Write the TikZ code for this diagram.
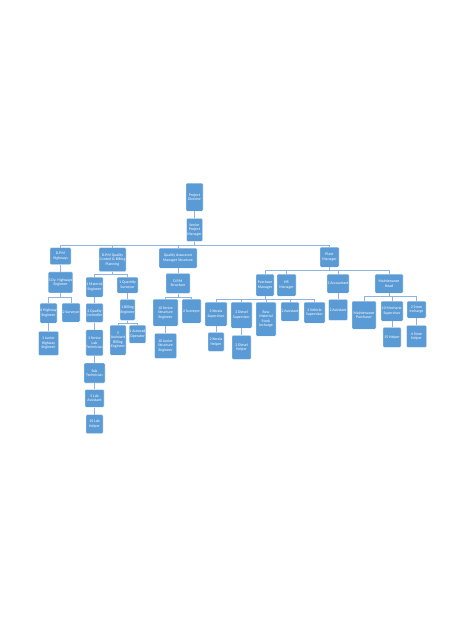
\documentclass[tikz,border=0pt]{standalone}
\usepackage{fontspec}
\setmainfont{Carlito}
\usetikzlibrary{positioning}
\definecolor{boxblue}{RGB}{91,155,213}
\definecolor{lineblue}{RGB}{143,180,226}
\tikzset{
    boks/.style={
           rectangle,
           rounded corners=1pt,
           fill=boxblue,
           draw=white, line width=0.3pt,
           text=white,
           font=\fontsize{3.9}{4.5}\selectfont,
           align=center,
           inner sep=0.3pt,
           anchor=north},
    wh/.style 2 args={
           minimum width=#1pt,
           minimum height=#2pt},
    linje/.style={
           draw=lineblue,
           line width=0.8pt}
}
\begin{document}
\begin{tikzpicture}[x=1pt, y=-1pt, node distance=6pt]
	\fill[white] (0,0) rectangle (474,632);
	\useasboundingbox (0,0) rectangle (474,632);
	% top
	\node[boks, wh={17}{28}] (ProjectDirector) at (194.5,183) {Project\\Director};
	\node[boks, wh={16}{23}, below = 7pt of ProjectDirector] (SeniorPM) {Senior\\Project\\Manager};
	\node[boks, wh={21}{17}] (DPMHighways) at (60.5,247.5) {D.P.M\\Highways};
	\node[boks, wh={27}{24}] (DPMQuality) at (112.5,247.5) {D.P.M Quality\\Control \& Billing\\Planning};
	\node[boks, wh={38}{20}] (QAManager) at (178,248) {Quality Assurance\\Manager Structure};
	\node[boks, wh={19}{20}] (PlantManager) at (329.5,247) {Plant\\Manager};
	% highways
	\node[boks, wh={23}{21}, below = 7pt of DPMHighways] (DyHighways) {3 Dy. Highways\\Engineer};
	\node[boks, wh={17}{20}] (HighwayEng) at (48.5,303) {6 Highway\\Engineer};
	\node[boks, wh={18}{19}] (SurveyorA) at (71,303) {2 Surveyor};
	\node[boks, wh={20}{24}, below = 8pt of HighwayEng] (JuniorHighway) {1 Junior\\Highway\\Engineer};
	% quality control and billing
	\node[boks, wh={17}{20}] (MaterialEng) at (94.5,277) {1 Material\\Engineer};
	\node[boks, wh={21}{16}] (QuantitySurv) at (127.5,277) {1 Quantity\\Surveyor};
	\node[boks, wh={17}{19}, below = 6pt of MaterialEng] (QualityCtrl) {2 Quality\\Controller};
	\node[boks, wh={17}{26}, below = 7pt of QualityCtrl] (LabTech) {1 Senior\\Lab\\Technician};
	\node[boks, wh={21}{20}, below = 7pt of LabTech] (SubTech) {Sub\\Technician};
	\node[boks, wh={19}{18}, below = 6pt of SubTech] (LabAssist) {5 Lab\\Assistant};
	\node[boks, wh={17}{19}, below = 7pt of LabAssist] (LabHelper) {10 Lab\\Helper};
	\node[boks, wh={15}{21}, below = 6pt of QuantitySurv] (BillingEng) {1 Billing\\Engineer};
	\node[boks, wh={16}{30}] (AsstBilling) at (118,325) {5\\Assistant\\Billing\\Engineer};
	\node[boks, wh={15}{18}] (AutocadOp) at (137.5,325) {1 Autocad\\Operator};
	% structure
	\node[boks, wh={24}{20}, below = 5pt of QAManager] (DPMStructure) {D.P.M\\Structure};
	\node[boks, wh={25}{27}] (SeniorStruct) at (165.5,299) {10 Senior\\Structure\\Engineer};
	\node[boks, wh={19}{24}] (SurveyorB) at (191.5,299) {2 Surveyor};
	\node[boks, wh={22}{25}, below = 7pt of SeniorStruct] (JuniorStruct) {10 Junior\\Structure\\Engineer};
	% plant
	\node[boks, wh={18}{22}] (PurchaseMgr) at (265,274) {Purchase\\Manager};
	\node[boks, wh={19}{22}] (HRMgr) at (286.5,274) {HR\\Manager};
	\node[boks, wh={22}{19}] (Accountant) at (338,274) {2 Accountant};
	\node[boks, wh={28}{19}] (MaintHead) at (389,274) {Maintenance\\Head};
	\node[boks, wh={22}{24}] (KeralaSup) at (216,302) {2 Kerala\\Supervisor};
	\node[boks, wh={16}{19}, below = 6pt of KeralaSup] (KeralaHelper) {2 Kerala\\Helper};
	\node[boks, wh={21}{26}] (DieselSup) at (241.5,302) {2 Diesel\\Supervisor};
	\node[boks, wh={19}{24}, below = 7pt of DieselSup] (DieselHelper) {2 Diesel\\Helper};
	\node[boks, wh={20}{34}] (RawMaterial) at (266,302) {Raw\\Material\\Stock\\Incharge};
	\node[boks, wh={18}{19}] (AssistantA) at (290,302) {2 Assistant};
	\node[boks, wh={21}{21}] (VehicleSup) at (314.5,302) {2 Vehicle\\Supervisor};
	\node[boks, wh={19}{21}, below = 6pt of Accountant] (AssistantB) {2 Assistant};
	\node[boks, wh={24}{28}] (MaintPurchaser) at (364,301) {Maintenance\\Purchaser};
	\node[boks, wh={22}{20}] (MechanicSup) at (392,301) {10 Mechanic\\Supervisor};
	\node[boks, wh={18}{20}, below = 6pt of MechanicSup] (Helper) {15 Helper};
	\node[boks, wh={19}{17}] (StoreIncharge) at (416.5,301) {2 Store\\Incharge};
	\node[boks, wh={20}{22}, below = 7pt of StoreIncharge] (StoreHelper) {4 Store\\Helper};

	\draw [linje] (ProjectDirector) -- (SeniorPM);
	\draw [linje] (SeniorPM.south) -- ++(0,3.5) -| (DPMHighways.north);
	\draw [linje] (SeniorPM.south) -- ++(0,3.5) -| (DPMQuality.north);
	\draw [linje] (SeniorPM.south) -- ++(0,3.5) -| (QAManager.north);
	\draw [linje] (SeniorPM.south) -- ++(0,3.5) -| (PlantManager.north);
	\draw [linje] (DPMHighways) -- (DyHighways);
	\draw [linje] (DyHighways.south) -- ++(0,4) -| (HighwayEng.north);
	\draw [linje] (DyHighways.south) -- ++(0,4) -| (SurveyorA.north);
	\draw [linje] (HighwayEng) -- (JuniorHighway);
	\draw [linje] (DPMQuality.south) -- ++(0,3) -| (MaterialEng.north);
	\draw [linje] (DPMQuality.south) -- ++(0,3) -| (QuantitySurv.north);
	\draw [linje] (MaterialEng) -- (QualityCtrl);
	\draw [linje] (QualityCtrl) -- (LabTech);
	\draw [linje] (LabTech) -- (SubTech);
	\draw [linje] (SubTech) -- (LabAssist);
	\draw [linje] (LabAssist) -- (LabHelper);
	\draw [linje] (QuantitySurv) -- (BillingEng);
	\draw [linje] (BillingEng.south) -- ++(0,2.5) -| (AsstBilling.north);
	\draw [linje] (BillingEng.south) -- ++(0,2.5) -| (AutocadOp.north);
	\draw [linje] (QAManager) -- (DPMStructure);
	\draw [linje] (DPMStructure.south) -- ++(0,3.5) -| (SeniorStruct.north);
	\draw [linje] (DPMStructure.south) -- ++(0,3.5) -| (SurveyorB.north);
	\draw [linje] (SeniorStruct) -- (JuniorStruct);
	\draw [linje] (PlantManager.south) -- ++(0,3) -| (PurchaseMgr.north);
	\draw [linje] (PlantManager.south) -- ++(0,3) -| (HRMgr.north);
	\draw [linje] (PlantManager.south) -- ++(0,3) -| (Accountant.north);
	\draw [linje] (PlantManager.south) -- ++(0,3) -| (MaintHead.north);
	\draw [linje] (PurchaseMgr.south) -- ++(0,3.5) -| (KeralaSup.north);
	\draw [linje] (PurchaseMgr.south) -- ++(0,3.5) -| (DieselSup.north);
	\draw [linje] (PurchaseMgr.south) -- ++(0,3.5) -| (RawMaterial.north);
	\draw [linje] (PurchaseMgr.south) -- ++(0,3.5) -| (AssistantA.north);
	\draw [linje] (PurchaseMgr.south) -- ++(0,3.5) -| (VehicleSup.north);
	\draw [linje] (KeralaSup) -- (KeralaHelper);
	\draw [linje] (DieselSup) -- (DieselHelper);
	\draw [linje] (Accountant) -- (AssistantB);
	\draw [linje] (MaintHead.south) -- ++(0,3) -| (MaintPurchaser.north);
	\draw [linje] (MaintHead.south) -- ++(0,3) -| (MechanicSup.north);
	\draw [linje] (MaintHead.south) -- ++(0,3) -| (StoreIncharge.north);
	\draw [linje] (MechanicSup) -- (Helper);
	\draw [linje] (StoreIncharge) -- (StoreHelper);
\end{tikzpicture}
\end{document}
